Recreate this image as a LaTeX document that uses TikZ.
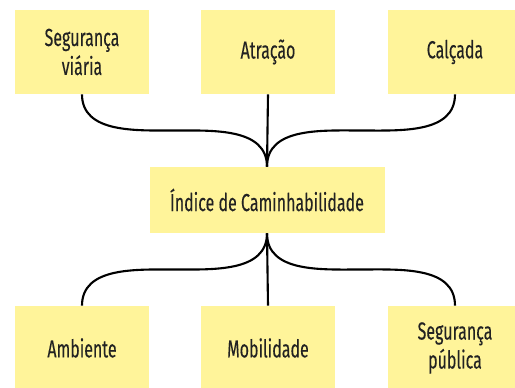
\documentclass[tikz,border=0pt]{standalone}
\usepackage{fontspec}
\setmainfont{Fira Sans}[FakeStretch=0.65, FakeBold=0.2]
\usetikzlibrary{calc}

\definecolor{notefill}{HTML}{FFF49A}
\definecolor{notetext}{HTML}{222222}

\tikzset{
  note/.style={fill=notefill, text=notetext, minimum width=134*0.02cm,
    minimum height=84*0.02cm, align=center, font=\fontsize{14}{16.5}\selectfont},
  link/.style={line width=1.2pt, black}
}

\begin{document}
\begin{tikzpicture}[x=0.02cm, y=-0.02cm]

\clip (0, 0) rectangle (515, 388);

\node[note] (seguranca) at (82, 52) {Segurança\\viária};
\node[note] (atracao) at (268, 52) {Atração};
\node[note] (calcada) at (455, 52) {Calçada};
\node[note, minimum width=235*0.02cm, minimum height=66*0.02cm] (indice) at (267, 200) {Índice de Caminhabilidade};
\node[note] (ambiente) at (82, 348) {Ambiente};
\node[note] (mobilidade) at (268, 348) {Mobilidade};
\node[note] (publica) at (455, 348) {Segurança\\pública};

\draw[link] (seguranca.south) to[out=-90, in=180] ($(seguranca.south)!0.5!(indice.north)$) to[out=0, in=90] (indice.north);
\draw[link] (atracao.south) -- (indice.north);
\draw[link] (calcada.south) to[out=-90, in=0] ($(calcada.south)!0.5!(indice.north)$) to[out=180, in=90] (indice.north);

\draw[link] (indice.south) to[out=-90, in=0] ($(indice.south)!0.5!(ambiente.north)$) to[out=180, in=90] (ambiente.north);
\draw[link] (indice.south) -- (mobilidade.north);
\draw[link] (indice.south) to[out=-90, in=180] ($(indice.south)!0.5!(publica.north)$) to[out=0, in=90] (publica.north);

\end{tikzpicture}
\end{document}
